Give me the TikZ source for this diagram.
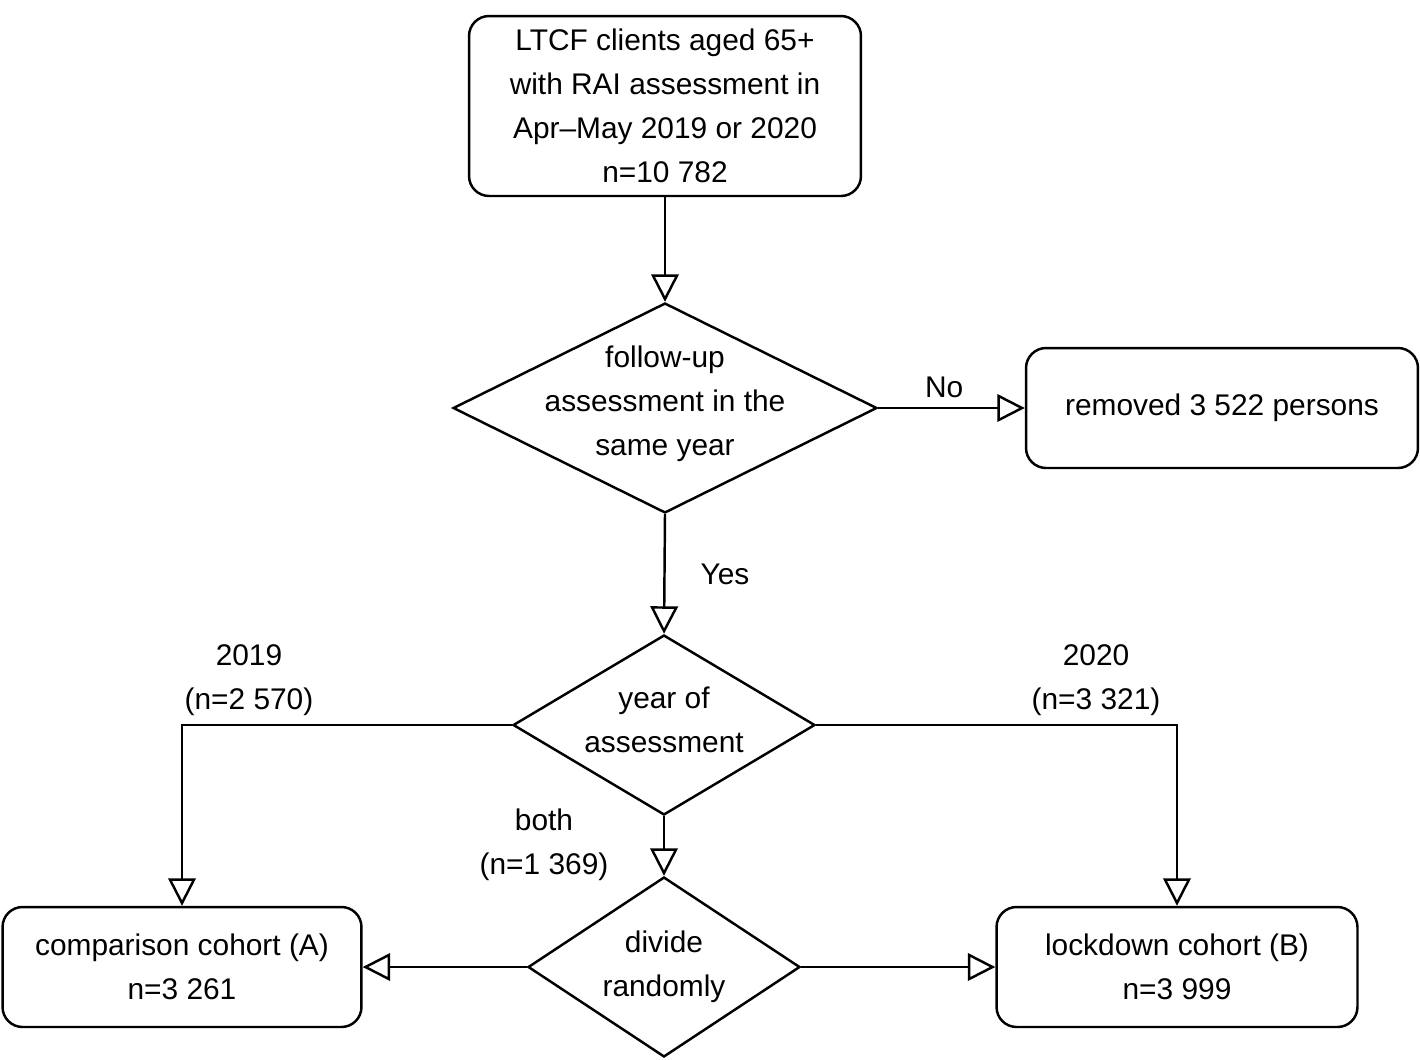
\documentclass[tikz,border=0pt]{standalone}
\usepackage{fontspec}
\setmainfont{Liberation Sans}
\usetikzlibrary{shapes.geometric, arrows.meta}
\tikzset{
    box/.style={rectangle, rounded corners=0.4cm, draw=black, line width=1.4pt, align=center, font=\fontsize{17}{25}\selectfont},
    decision/.style={diamond, draw=black, line width=1.4pt, inner sep=0pt},
    txt/.style={align=center, font=\fontsize{17}{25}\selectfont},
    arrow/.style={line width=1.4pt, -{Triangle[open, length=0.55cm, width=0.55cm]}}
}
\begin{document}
\begin{tikzpicture}[x=0.02cm, y=-0.02cm]
    \useasboundingbox (0,0) rectangle (1420,1059);
    % Nodes
    \node (start) [box, minimum width=7.84cm, minimum height=3.6cm] at (665,106) {LTCF clients aged 65+\\with RAI assessment in\\Apr--May 2019 or 2020\\n=10 782};
    \node (followup) [decision, minimum width=8.48cm, minimum height=4.2cm] at (665,408) {};
    \node (followupT) [txt] at (665,404) {follow-up\\assessment in the\\same year};
    \node (removed) [box, minimum width=7.84cm, minimum height=2.4cm] at (1222,408) {removed 3 522 persons};
    \node (year) [decision, minimum width=6.04cm, minimum height=3.6cm] at (664,725) {};
    \node (yearT) [txt] at (664,720) {year of\\assessment};
    \node (divide) [decision, minimum width=5.44cm, minimum height=3.6cm] at (664,967) {};
    \node (divideT) [txt] at (664,967) {divide\\randomly};
    \node (cohortA) [box, minimum width=7.18cm, minimum height=2.4cm] at (182,967) {comparison cohort (A)\\n=3 261};
    \node (cohortB) [box, minimum width=7.22cm, minimum height=2.4cm] at (1177,967) {lockdown cohort (B)\\n=3 999};
    \coordinate (cornerA) at (182,725);
    \coordinate (cornerB) at (1177,725);
    % Arrows
    \draw [arrow] (start) -- (followup);
    \draw [arrow] (followup.east) -- node[txt, above=2pt, pos=0.45] {No} (removed.west);
    \draw [arrow] (followup.south) -- (year.north);
    \node (yes) [txt] at (725,574) {Yes};
    \draw [arrow] (year.west) -- (cornerA) -- (cohortA.north);
    \node (y2019) [txt] at (249,680) {2019\\(n=2 570)};
    \draw [arrow] (year.east) -- (cornerB) -- (cohortB.north);
    \node (y2020) [txt] at (1096,680) {2020\\(n=3 321)};
    \draw [arrow] (year.south) -- (divide.north);
    \node (both) [txt] at (544,845) {both\\(n=1 369)};
    \draw [arrow] (divide.west) -- (cohortA.east);
    \draw [arrow] (divide.east) -- (cohortB.west);
\end{tikzpicture}
\end{document}
